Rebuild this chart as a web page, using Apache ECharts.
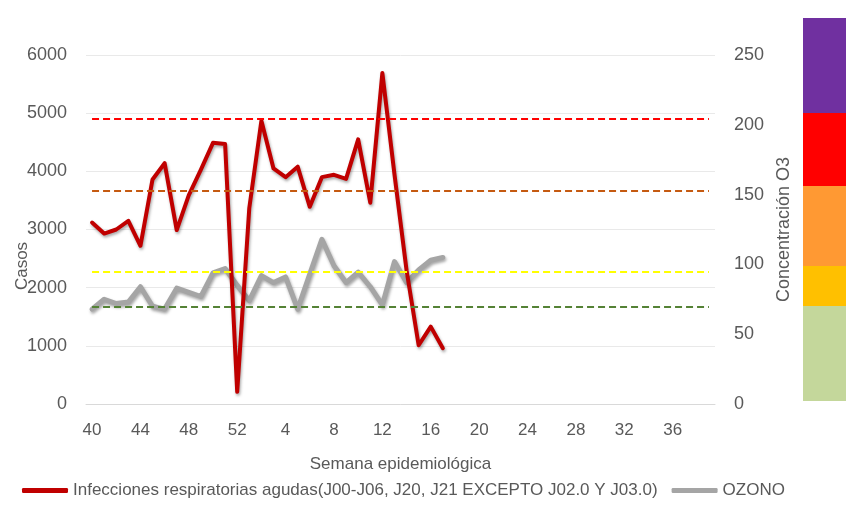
<!DOCTYPE html>
<html>
<head>
<meta charset="utf-8">
<title>IRA vs Ozono</title>
<script src="https://cdn.jsdelivr.net/npm/echarts@6/dist/echarts.min.js"></script>
<style>
  html, body { margin: 0; padding: 0; background: #fff; }
  #chart { width: 846px; height: 505px; }
</style>
</head>
<body>
<div id="chart"></div>
<script>
// semanas epidemiológicas 40..52 y 1..39
const weeks = ['40','41','42','43','44','45','46','47','48','49','50','51','52',
  '1','2','3','4','5','6','7','8','9','10','11','12','13','14','15','16','17','18','19',
  '20','21','22','23','24','25','26','27','28','29','30','31','32','33','34','35','36',
  '37','38','39']

// casos de IRA (eje izquierdo)
const iraCases = [3120, 2930, 3000, 3150, 2720, 3860, 4140, 2990, 3590, 4030, 4490, 4470, 210,
  3370, 4870, 4050, 3900, 4080, 3390, 3900, 3940, 3870, 4550, 3460, 5690, 3950, 2300, 1010, 1330, 960]

// concentración de ozono (eje derecho)
const ozone = [68, 75, 72, 73, 84, 70, 68, 83, 80, 77, 94, 97, 85,
  74, 92, 87, 91, 68, 93, 118, 99, 87, 94.5, 84, 71, 102, 87, 96, 103, 105]

// límites punteados (eje derecho)
const limitValues = [204, 153, 95, 70]
const limitColors = ['#FF0000', '#C55A11', '#FFFF00', '#548235']

// barra de colores a la derecha (techo de cada franja)
const bandTops = [276, 207.6, 155, 97.3, 68.5]
const bandColors = ['#7030A0', '#FF0000', '#FF9933', '#FFC000', '#C4D79B']

const FONT = 'Liberation Sans'
const GREY = '#595959'

const chart = echarts.init(document.getElementById('chart'))

const lineShadow = {
  shadowBlur: 3,
  shadowColor: 'rgba(0,0,0,0.35)',
  shadowOffsetX: 1,
  shadowOffsetY: 2
}

const option = {
  animation: false,
  textStyle: { fontFamily: FONT },
  grid: [
    { left: 86, right: 131, top: 55, bottom: 101 },
    { left: 803, right: 0, top: 18, bottom: 104 }
  ],
  xAxis: [
    {
      type: 'category',
      data: weeks,
      gridIndex: 0,
      boundaryGap: true,
      axisTick: { show: false },
      axisLine: { lineStyle: { color: '#D9D9D9', width: 1 } },
      axisLabel: { interval: 3, color: GREY, fontSize: 17, margin: 18, fontFamily: FONT },
      name: 'Semana epidemiológica',
      nameLocation: 'middle',
      nameGap: 52,
      nameTextStyle: { color: GREY, fontSize: 17, fontFamily: FONT }
    },
    {
      type: 'category',
      data: [''],
      gridIndex: 1,
      show: false
    }
  ],
  yAxis: [
    {
      type: 'value',
      gridIndex: 0,
      min: 0,
      max: 6000,
      interval: 1000,
      axisLine: { show: false },
      axisTick: { show: false },
      axisLabel: { color: GREY, fontSize: 18, margin: 19, fontFamily: FONT, formatter: v => String(v) },
      splitLine: { lineStyle: { color: '#E9E9E9', width: 1 } }
    },
    {
      type: 'value',
      gridIndex: 0,
      position: 'right',
      min: 0,
      max: 250,
      interval: 50,
      axisLine: { show: false },
      axisTick: { show: false },
      splitLine: { show: false },
      axisLabel: { color: GREY, fontSize: 18, margin: 19, fontFamily: FONT },
      name: 'Concentración O3',
      nameLocation: 'middle',
      nameGap: 59,
      nameTextStyle: { color: GREY, fontSize: 18, fontFamily: FONT }
    },
    {
      type: 'value',
      gridIndex: 1,
      min: 0,
      max: 276,
      show: false
    }
  ],
  legend: {
    data: [
      'Infecciones respiratorias agudas(J00-J06, J20, J21 EXCEPTO J02.0 Y J03.0)',
      'OZONO'
    ],
    left: 17,
    top: 477,
    icon: 'roundRect',
    itemWidth: 46,
    itemHeight: 5,
    itemGap: 14,
    textStyle: { color: GREY, fontSize: 17, fontFamily: FONT }
  },
  graphic: [
    {
      type: 'text',
      x: 22,
      y: 266,
      rotation: Math.PI / 2,
      style: {
        text: 'Casos',
        fill: GREY,
        font: '17px "Liberation Sans"',
        align: 'center',
        verticalAlign: 'middle'
      }
    }
  ],
  series: [
    {
      name: 'OZONO',
      type: 'line',
      xAxisIndex: 0,
      yAxisIndex: 1,
      data: ozone,
      showSymbol: false,
      z: 2,
      itemStyle: { color: '#A5A5A5' },
      lineStyle: Object.assign({ color: '#A5A5A5', width: 5, cap: 'round', join: 'round' }, lineShadow)
    },
    {
      name: 'Infecciones respiratorias agudas(J00-J06, J20, J21 EXCEPTO J02.0 Y J03.0)',
      type: 'line',
      xAxisIndex: 0,
      yAxisIndex: 0,
      data: iraCases,
      showSymbol: false,
      z: 3,
      itemStyle: { color: '#C00000' },
      lineStyle: Object.assign({ color: '#C00000', width: 4, cap: 'round', join: 'round' }, lineShadow)
    },
    {
      // líneas de límite punteadas
      name: 'limites',
      type: 'line',
      xAxisIndex: 0,
      yAxisIndex: 1,
      data: [],
      z: 5,
      markLine: {
        silent: true,
        symbol: ['none', 'none'],
        label: { show: false },
        data: limitValues.map((v, i) => [
          { coord: [weeks[0], v], lineStyle: { color: limitColors[i], width: 2, type: [7, 4] } },
          { coord: [weeks[weeks.length - 1], v] }
        ])
      }
    }
  ].concat(bandTops.map((top, i) => ({
    name: 'franja' + i,
    type: 'bar',
    xAxisIndex: 1,
    yAxisIndex: 2,
    barWidth: '100%',
    barGap: '-100%',
    data: [top],
    itemStyle: { color: bandColors[i] },
    silent: true
  })))
}

chart.setOption(option)
</script>
</body>
</html>
